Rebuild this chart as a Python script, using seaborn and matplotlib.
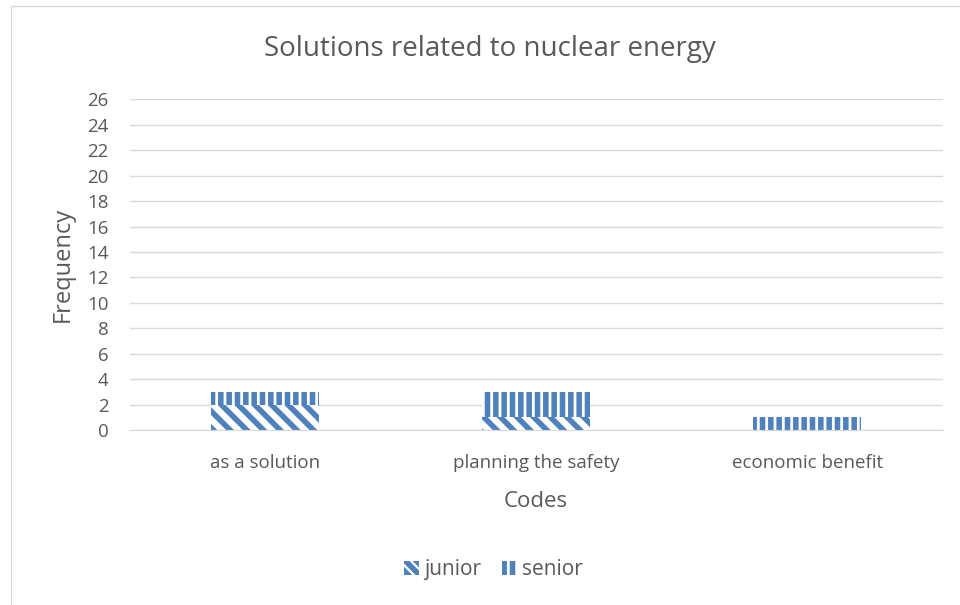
import matplotlib
matplotlib.use('Agg')
import matplotlib.pyplot as plt
import seaborn as sns
import pandas as pd
from matplotlib.patches import Patch, Rectangle

codes = ['as a solution', 'planning the safety', 'economic benefit']
junior = [2, 1, 0]
senior = [1, 2, 1]
yticks = list(range(0, 27, 2))

blue = '#4F81BD'
text_grey = '#595959'

sns.set_style('white')
plt.rcParams['font.family'] = ['Open Sans', 'DejaVu Sans']
plt.rcParams['hatch.linewidth'] = 4.0

df = pd.DataFrame({'code': codes, 'junior': junior, 'senior': senior})
df['total'] = df['junior'] + df['senior']

fig = plt.figure(figsize=(9.6, 6.05), dpi=100)
ax = fig.add_axes([0.135, 0.289, 0.847, 0.547])

# senior stacked on top of junior: draw total first, then junior over it
sns.barplot(data=df, x='code', y='total', ax=ax, color='white', width=0.4,
            hatch='||', edgecolor=blue, linewidth=0)
sns.barplot(data=df, x='code', y='junior', ax=ax, color='white', width=0.4,
            hatch='\\\\', edgecolor=blue, linewidth=0)

ax.set_ylim(0, 26)
ax.set_yticks(yticks)
ax.yaxis.grid(True, color='#D9D9D9', linewidth=1)
ax.set_axisbelow(True)
for s in ['top', 'right', 'left']:
    ax.spines[s].set_visible(False)
ax.spines['bottom'].set_color('#D9D9D9')
ax.tick_params(axis='both', length=0, colors=text_grey, labelsize=13.5)
ax.tick_params(axis='x', pad=17)
ax.tick_params(axis='y', pad=15)
ax.set_xlabel('Codes', color=text_grey, fontsize=16)
ax.set_ylabel('Frequency', color=text_grey, fontsize=17)
ax.xaxis.set_label_coords(0.5, -0.185)
ax.yaxis.set_label_coords(-0.067, 0.5)
fig.suptitle('Solutions related to nuclear energy', color=text_grey,
             fontsize=20, x=0.51, y=0.942)

handles = [Patch(facecolor='white', edgecolor=blue, hatch='\\\\\\', linewidth=0, label='junior'),
           Patch(facecolor='white', edgecolor=blue, hatch='||', linewidth=0, label='senior')]
leg = fig.legend(handles=handles, loc='center', bbox_to_anchor=(0.514, 0.058), ncol=2,
                 frameon=False, fontsize=15, handlelength=0.7, handleheight=0.7,
                 handletextpad=0.25, columnspacing=1.0, labelcolor=text_grey)

fig.patches.append(Rectangle((0.011, -0.01), 1.0, 1.0, transform=fig.transFigure,
                             fill=False, edgecolor='#D9D9D9', linewidth=1))

fig.savefig('out.png', dpi=100)
